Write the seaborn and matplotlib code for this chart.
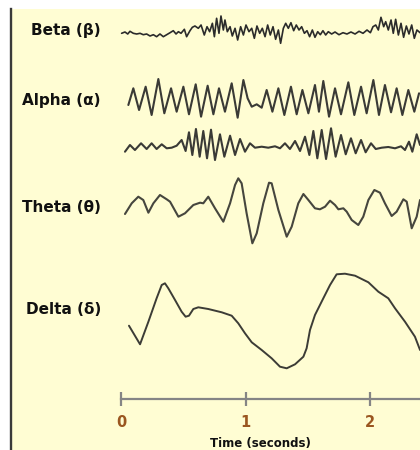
import matplotlib
matplotlib.use("Agg")
import matplotlib.pyplot as plt
import numpy as np
import seaborn as sns

# EEG bands: time (s) and amplitude (px, up = positive)
band_names = ["Beta (β)", "Alpha (α)", "Theta (θ)", "Delta (δ)"]
tick_values = [0, 1, 2]
tick_labels = ["0", "1", "2"]

beta_t = [0.005, 0.032, 0.054, 0.072, 0.099, 0.126, 0.153, 0.179, 0.206, 0.233, 0.260,
          0.286, 0.313, 0.340, 0.367, 0.394, 0.420, 0.442, 0.461, 0.482, 0.509, 0.527, 0.554, 0.573,
          0.594, 0.621, 0.643, 0.669, 0.691, 0.712, 0.734, 0.750, 0.768, 0.787, 0.803, 0.822, 0.835, 0.854,
          0.876, 0.894, 0.916, 0.937, 0.961, 0.983, 1.004, 1.028, 1.050, 1.071, 1.092, 1.114, 1.135, 1.157,
          1.178, 1.199, 1.221, 1.242, 1.264, 1.282, 1.304,
          1.323, 1.344, 1.365, 1.387, 1.408, 1.430, 1.451,
          1.473, 1.494, 1.515, 1.537, 1.558, 1.580, 1.601, 1.622, 1.644, 1.665, 1.692, 1.719, 1.751, 1.783,
          1.815, 1.847, 1.880, 1.912, 1.944, 1.976, 2.003, 2.024,
          2.046, 2.067, 2.088, 2.110, 2.126, 2.147, 2.169, 2.187, 2.206, 2.228, 2.249, 2.270, 2.292, 2.313,
          2.335, 2.356, 2.377, 2.402]
beta_amp = [-0.3, 1, -1, 1.7, -0.3, -1, -0.3, -1.7, -1, -3, -1.7,
            -3.7, -1, -3.7, -1.7, 0.3, 2.3, -1, 1.3, -0.3, 3.7, -3.7, 2.3, 5.7,
            7, 4.7, 8, -2, 6.3, 1.3, 9.7, -3.7, 14.7, -0.3, 17, 3, 13, 1.3,
            6.3, -3, 4.7, -7, 6.3, -2, 8, 1.3, 4.7, -5.3, 7, -0.3, 4.7, -3.7,
            8, -2, 6.3, -6.3, 3, -10.3, 4.7,
            9.7, 4.7, 10.3, 2.3, 8, 3, 6.3,
            -0.3, 2.3, -3.7, 3, -4.3, 1.3, -1.7, 2.3, -2, 1.3, -1, 1, -1.7, 0.3,
            -1, 1, -1, 1.7, -0.3, 3, 0.3, 6.3,
            8, 3, 15.7, 6.3, 11.3, 3, 13, -0.3, 13.7, -2, 9.7, -4.3, 7, -1,
            8, -5.3, 3, 0.3]

alpha1_t = [0.059, 0.099, 0.145, 0.198, 0.246, 0.300, 0.348, 0.402, 0.447, 0.501, 0.546, 0.600,
            0.643, 0.696, 0.742, 0.787, 0.835, 0.889, 0.937, 0.983, 1.017, 1.050, 1.090, 1.130,
            1.170, 1.216, 1.264, 1.312, 1.365, 1.411, 1.457, 1.505, 1.558, 1.590, 1.625, 1.671,
            1.719, 1.767, 1.826, 1.874, 1.928, 1.973, 2.027, 2.072, 2.120, 2.169, 2.214, 2.260,
            2.308, 2.356, 2.394]
alpha1_amp = [-5, 11.7, -10, 13.3, -15, 21, -13.3, 11.7, -11.7, 13.3, -14.3, 15.7,
              -16.7, 14.3, -14.3, 11.7, -11.7, 16.7, -17.7, 20, 1.7, -6.7, -4.3, -7.7,
              10, -11.7, 11.7, -15, 13.3, -14.3, 10, -13.3, 15, -11.7, 19, -16.7,
              11.7, -14.3, 17.7, -15, 13.3, -13.3, 20, -15, 15, -12.3, 11.7, -15,
              10, -11.7, 6.7]

alpha2_t = [0.032, 0.072, 0.112, 0.161, 0.206, 0.246, 0.286, 0.327, 0.367, 0.407, 0.447, 0.487,
            0.519, 0.546, 0.573, 0.602, 0.632, 0.661, 0.691, 0.723, 0.755, 0.795, 0.830, 0.876,
            0.916, 0.956, 0.996, 1.036, 1.076, 1.130, 1.183, 1.237, 1.277, 1.317, 1.357, 1.398,
            1.438, 1.478, 1.513, 1.545, 1.577, 1.612, 1.647, 1.687, 1.724, 1.767, 1.805, 1.847,
            1.885, 1.928, 1.965, 2.008, 2.046, 2.094, 2.147, 2.201, 2.249, 2.281, 2.313, 2.340,
            2.375, 2.402]
alpha2_amp = [-4.7, 2, -3, 3.7, -2, 3.7, -2, 2.7, -1.3, -0.7, 1.3, 7,
              -4, 14.7, -8, 18, -9.7, 16, -11.3, 17.3, -13, 12.7, -9.7, 11.3,
              -8, 8, -4.7, 3.7, -0.7, 0.3, -0.7, 0.7, -1.3, 3.7, -2, 6,
              -4, 10.3, -8, 16, -11.3, 17, -12, 18.7, -9.7, 12, -7.3, 8.7,
              -6.3, 7, -5.3, 3.7, -2, -0.7, 0, -1.3, 0.7, -3, 5.3, -4.7,
              12.7, 2]

theta_t = [0.032, 0.086, 0.139, 0.179, 0.220, 0.260, 0.313, 0.367, 0.394, 0.461, 0.514, 0.581,
           0.635, 0.661, 0.701, 0.755, 0.822, 0.876, 0.916, 0.942, 0.969, 1.009, 1.055, 1.090,
           1.143, 1.189, 1.210, 1.264, 1.331, 1.371, 1.424, 1.465, 1.505, 1.558, 1.598, 1.639,
           1.679, 1.719, 1.746, 1.786, 1.813, 1.853, 1.906, 1.946, 1.987, 2.035, 2.080, 2.120,
           2.174, 2.214, 2.268, 2.295, 2.335, 2.375, 2.402]
theta_amp = [-7, 3.7, 10.3, 7, -5.7, 3.7, 12, 7.7, 5.3, -9.7, -6.3, 2,
             4.3, 3.7, 10.3, -1.3, -14.7, 3.7, 22, 28.7, 23.7, -6.3, -36.3, -26.3,
             3.7, 24.3, 23.7, -3, -29.7, -19.7, 3.7, 13, 7, -1.3, -2.3, 0.3,
             6.3, 2, -2.3, -1.3, -4.7, -13, -18, -9.7, 7, 17, 14.3, 3.7,
             -9, -4.7, 7.7, 5.3, -21.3, -9.7, 7]

delta_t = [0.064, 0.153, 0.220, 0.286, 0.327, 0.353, 0.380, 0.434, 0.487, 0.519, 0.546, 0.581,
           0.621, 0.701, 0.809, 0.889, 0.942, 0.996, 1.050, 1.130, 1.210, 1.277, 1.331, 1.398,
           1.465, 1.491, 1.518, 1.558, 1.625, 1.679, 1.732, 1.799, 1.880, 1.987, 2.067, 2.147,
           2.201, 2.281, 2.361, 2.402]
delta_amp = [-15.7, -34.3, -11.7, 11.7, 25, 26.7, 21.7, 10, -1.7, -6.7, -5.7, 1,
             2.7, 1, -2.3, -5.7, -13.3, -23.3, -32.3, -40, -48.3, -56.7, -58.3, -54.3,
             -46.7, -38.3, -20, -5, 11.7, 25, 35.7, 36.3, 34.3, 27.7, 18.3, 11.7,
             1.7, -11.7, -26.7, -40]

# layout (pixel rows of the 420x450 picture, y grows downward)
traces = [
    (beta_t, beta_amp, 33, "#2b2b2b", 1.2),
    (alpha1_t, alpha1_amp, 100, "#3a3a36", 1.5),
    (alpha2_t, alpha2_amp, 147, "#3a3a36", 1.5),
    (theta_t, theta_amp, 207, "#46463e", 1.5),
    (delta_t, delta_amp, 310, "#3c3c36", 1.4),
]
label_rows = [30, 100, 207, 310]
axis_row = 399

px_per_s = 124.5
zero_px = 121
cream = "#fffdd3"

sns.set_style("white")
plt.rcParams["font.family"] = ["DejaVu Sans"]

fig = plt.figure(figsize=(4.2, 4.5), dpi=100)
fig.patch.set_facecolor("white")
ax = fig.add_axes([11 / 420, 0, 409 / 420, 441 / 450])
ax.set_facecolor(cream)

for t, amp, base, color, lw in traces:
    y = base - np.asarray(amp)
    sns.lineplot(x=t, y=y, ax=ax, color=color, lw=lw, estimator=None, sort=False,
                 solid_joinstyle="round", solid_capstyle="round")

for name, row in zip(band_names, label_rows):
    ax.text((101 - zero_px) / px_per_s, row, name, ha="right", va="center",
            fontsize=11, fontweight="bold", color="#111111")

x_left = (11 - zero_px) / px_per_s
x_right = (420 - zero_px) / px_per_s
ax.set_xlim(x_left, x_right)
ax.set_ylim(450, 9)

# time axis drawn with the real x axis, moved up into the picture
for side in ["top", "right"]:
    ax.spines[side].set_visible(False)
ax.spines["left"].set_color("#3a3a3a")
ax.spines["left"].set_linewidth(1.7)
ax.spines["bottom"].set_position(("data", axis_row))
ax.spines["bottom"].set_bounds(0, x_right)
ax.spines["bottom"].set_color("#858585")
ax.spines["bottom"].set_linewidth(1.6)
ax.set_xticks(tick_values)
ax.set_xticklabels(tick_labels, fontsize=10.5, fontweight="bold")
ax.tick_params(axis="x", bottom=True, direction="inout", length=9.4, width=1.6,
               color="#858585", labelcolor="#9a5620", pad=7)
ax.tick_params(axis="y", left=False, labelleft=False)
ax.set_xlabel("")
ax.set_ylabel("")
ax.text((260 - zero_px) / px_per_s, 444, "Time (seconds)", ha="center", va="center",
        fontsize=8.5, fontweight="bold", color="#111111")

fig.savefig("out.png", dpi=100, facecolor=fig.get_facecolor())
